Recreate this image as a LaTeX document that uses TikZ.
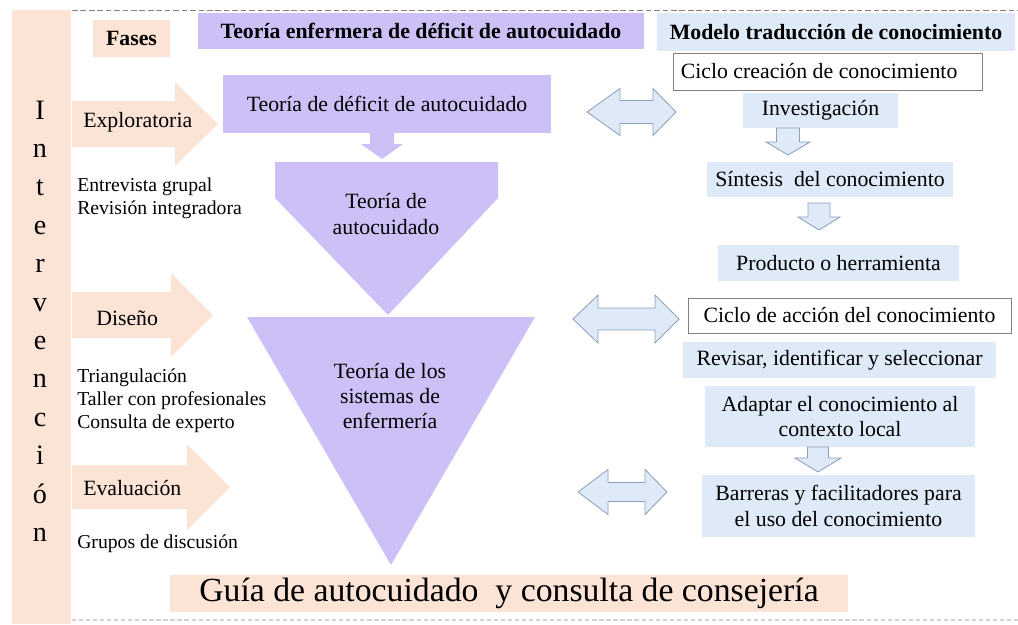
\documentclass[tikz,border=0pt]{standalone}
\usepackage{fontspec}
\setmainfont{Liberation Serif}
\definecolor{peach}{RGB}{251,228,213}
\definecolor{lila}{RGB}{205,192,246}
\definecolor{celeste}{RGB}{222,234,247}
\definecolor{borde}{RGB}{140,160,185}

% double block arrow: left tip, right tip, centre y, left base, right base, body half, head half
\newcommand{\flechaDoble}[7]{%
  \filldraw[hueca] (#1,#3) -- (#4,#3-#7) -- (#4,#3-#6) -- (#5,#3-#6) -- (#5,#3-#7) -- (#2,#3)
    -- (#5,#3+#7) -- (#5,#3+#6) -- (#4,#3+#6) -- (#4,#3+#7) -- cycle;}
% down block arrow: centre x, top, head start, tip, body half, head half
\newcommand{\flechaAbajo}[6]{%
  (#1-#5,#2) -- (#1+#5,#2) -- (#1+#5,#3) -- (#1+#6,#3) -- (#1,#4) -- (#1-#6,#3) -- (#1-#5,#3) -- cycle}
% phase arrow: head base x, tip x, centre y, body half, head half
\newcommand{\fase}[5]{%
  \fill[peach] (72,#3-#4) -- (#1,#3-#4) -- (#1,#3-#5) -- (#2,#3) -- (#1,#3+#5) -- (#1,#3+#4) -- (72,#3+#4) -- cycle;}

\tikzset{
  txt/.style={font=\fontsize{15.5}{18}\selectfont, inner sep=0pt, align=center},
  negrita/.style={font=\fontsize{15.5}{18}\selectfont\bfseries, inner sep=0pt},
  chico/.style={font=\fontsize{14}{16.4}\selectfont, inner sep=0pt, align=left, anchor=west},
  sz/.style 2 args={minimum width=#1*0.025cm, minimum height=#2*0.025cm},
  lilabox/.style={txt, fill=lila},
  azulbox/.style={txt, fill=celeste},
  ciclobox/.style={txt, draw=gray, fill=white, line width=0.6pt},
  hueca/.style={fill=celeste, draw=borde, line width=0.6pt},
}

\begin{document}
\begin{tikzpicture}[x=0.025cm,y=-0.025cm]
\useasboundingbox (0,0) rectangle (1018,624);

\fill[peach] (12,10) rectangle (71,624);
\draw[gray, dash pattern=on 4pt off 2pt, line width=0.5pt] (72,10) -- (1018,10);
\draw[gray!35, dash pattern=on 3pt off 2pt, line width=1pt] (72,620) -- (1018,620);

\foreach \l [count=\i from 0] in {I,n,t,e,r,v,e,n,c,i,ó,n}
  \node[font=\fontsize{20}{22}\selectfont, inner sep=0pt, anchor=base] (letra\i) at (40,119+38.4*\i) {\l};

% titulos
\node[negrita, fill=peach, sz={77}{37}] (fases) at (131.5,38.5) {Fases};
\node[negrita, fill=lila, sz={446}{36}] (teoria) at (421,31) {Teoría enfermera de déficit de autocuidado};
\node[negrita, fill=celeste, sz={358}{38}] (modelo) at (836,32) {Modelo traducción de conocimiento};

% fases
\fase{175}{218}{124}{23}{42}
\fase{171}{213}{315}{23}{42}
\fase{187}{230}{487}{22}{43}
\node[txt, anchor=west] (explo) at (83,122) {Exploratoria};
\node[txt, anchor=west] (diseno) at (96,318) {Diseño};
\node[txt, anchor=west] (evalua) at (83,488) {Evaluación};
\node[chico] (subexplo) at (77,198) {Entrevista grupal\\Revisión integradora};
\node[chico] (subdiseno) at (77,401) {Triangulación\\Taller con profesionales\\Consulta de experto};
\node[chico] (subevalua) at (77,544) {Grupos de discusión};

% teoria de Orem
\node[lilabox, sz={328}{58}] (deficit) at (387,104) {Teoría de déficit de autocuidado};
\fill[lila] \flechaAbajo{382}{133}{144}{159}{12}{21};
\fill[lila] (275,162) -- (498,162) -- (498,198) -- (388,315) -- (275,198) -- cycle;
\node[txt] (autocuidado) at (386,214) {Teoría de\\autocuidado};
\fill[lila] (247,317) -- (535,317) -- (391,565) -- cycle;
\node[txt] (sistemas) at (390,396) {Teoría de los\\sistemas de\\enfermería};

\node[txt, font=\fontsize{24}{28}\selectfont, fill=peach, sz={678}{37}] (guia) at (509,593.5) {Guía de autocuidado\ \ y consulta de consejería};

% modelo de traduccion
\node[ciclobox, sz={309}{37}] (creacion) at (827.5,71.5) {Ciclo creación de conocimiento\hspace{12pt}};
\node[azulbox, sz={155}{35}] (investiga) at (820.5,110.5) {Investigación};
\filldraw[hueca] \flechaAbajo{788}{128}{142}{155}{11.5}{22};
\node[azulbox, sz={246}{35}] (sintesis) at (830,179.5) {Síntesis\ \ del conocimiento};
\filldraw[hueca] \flechaAbajo{819}{203}{217}{230}{11}{21};
\node[azulbox, sz={241}{36}] (producto) at (838.5,263) {Producto o herramienta};
\node[ciclobox, sz={323}{35}] (accion) at (849.5,315.5) {Ciclo de acción del conocimiento};
\node[azulbox, sz={313}{36}] (revisar) at (839.5,360) {Revisar, identificar y seleccionar};
\node[azulbox, sz={270}{61}] (adaptar) at (840,416.5) {Adaptar el conocimiento al\\contexto local};
\filldraw[hueca] \flechaAbajo{818}{447}{458}{472}{10.5}{23};
\node[azulbox, sz={273}{62}] (barreras) at (838.5,506) {Barreras y facilitadores para\\el uso del conocimiento};

% dobles flechas
\flechaDoble{587}{676}{112}{620}{653}{11.5}{23.5}
\flechaDoble{573}{679}{319}{598}{655}{11}{24}
\flechaDoble{578}{667}{492}{608}{645}{9.5}{22.5}

\end{tikzpicture}
\end{document}
